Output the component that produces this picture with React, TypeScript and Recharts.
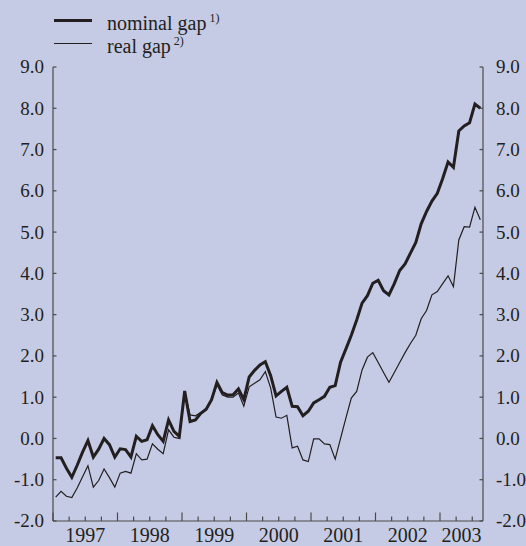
import { Line, LineChart, XAxis, YAxis } from "recharts";

// monthly, Jan 1997 - Aug 2003
const nominalGap = [
  -0.47, -0.47, -0.72, -0.94, -0.65, -0.33, -0.05, -0.45, -0.26, 0.0, -0.15, -0.45,
  -0.25, -0.27, -0.45, 0.05, -0.07, -0.03, 0.31, 0.09, -0.07, 0.45, 0.17, 0.05,
  1.15, 0.41, 0.45, 0.61, 0.71, 0.94, 1.36, 1.11, 1.05, 1.06, 1.2, 0.94,
  1.49, 1.65, 1.78, 1.86, 1.52, 1.03, 1.14, 1.24, 0.78, 0.77, 0.55, 0.66,
  0.86, 0.94, 1.02, 1.24, 1.28, 1.85, 2.17, 2.5, 2.87, 3.28, 3.46, 3.76,
  3.83, 3.58, 3.48, 3.75, 4.07, 4.23, 4.49, 4.75, 5.2, 5.5, 5.75, 5.94,
  6.3, 6.7, 6.57, 7.45, 7.57, 7.65, 8.1, 8.0,
];

const realGap = [
  -1.42, -1.28, -1.4, -1.43, -1.2, -0.93, -0.66, -1.18, -1.02, -0.74, -0.95, -1.18,
  -0.84, -0.8, -0.84, -0.37, -0.52, -0.5, -0.13, -0.26, -0.37, 0.21, 0.03, 0.0,
  1.12, 0.57, 0.55, 0.63, 0.71, 0.92, 1.3, 1.05, 1.0, 1.0, 1.1, 0.78,
  1.25, 1.34, 1.42, 1.62, 1.22, 0.52, 0.49, 0.56, -0.23, -0.19, -0.52, -0.56,
  -0.01, -0.01, -0.13, -0.15, -0.5, 0.0, 0.5, 0.98, 1.14, 1.66, 1.97, 2.08,
  1.84, 1.6, 1.36, 1.6, 1.84, 2.08, 2.3, 2.5, 2.9, 3.1, 3.48, 3.56,
  3.75, 3.94, 3.68, 4.81, 5.13, 5.12, 5.6, 5.3,
];

const years = ["1997", "1998", "1999", "2000", "2001", "2002", "2003"];
const yTicks = [-2, -1, 0, 1, 2, 3, 4, 5, 6, 7, 8, 9];

const MONTHS = nominalGap.length;
const quarterTicks = Array.from({ length: Math.floor((MONTHS - 1) / 3) + 1 }, (_, i) => i * 3);
const yearMid = years.map((_, i) => {
  const start = i * 12;
  const end = Math.min(start + 12, MONTHS);
  return (start + end) / 2;
});

const data = nominalGap.map((v, i) => ({ m: i + 0.5, nominal: v, real: realGap[i] }));

const BG = "#c6cbe5";
const INK = "#231f20";
const AXIS = "#4a4a4a";
const FONT = "'Liberation Serif', 'Times New Roman', serif";

const css = `
.ecb, .ecb text, .ecb tspan, .ecb span { font-family: ${FONT} !important; }
`;

// eslint-disable-next-line @typescript-eslint/no-explicit-any
const LeftTick = ({ x, y, payload }: any) => (
  <g>
    <line x1={x} x2={x + 3.5} y1={y} y2={y} stroke={AXIS} strokeWidth={1.2} />
    <text x={x - 9} y={y} dy="0.34em" textAnchor="end" fontSize={19} fill={INK}>
      {payload.value.toFixed(1)}
    </text>
  </g>
);

// eslint-disable-next-line @typescript-eslint/no-explicit-any
const RightTick = ({ x, y, payload }: any) => (
  <g>
    <line x1={x} x2={x - 3.5} y1={y} y2={y} stroke={AXIS} strokeWidth={1.2} />
    <text x={x + 13} y={y} dy="0.34em" textAnchor="start" fontSize={19} fill={INK}>
      {payload.value.toFixed(1)}
    </text>
  </g>
);

// eslint-disable-next-line @typescript-eslint/no-explicit-any
const QuarterTick = ({ x, y, payload }: any) => {
  const len = payload.value % 12 === 0 ? 8.5 : 4.5;
  return <line x1={x} x2={x} y1={y} y2={y - len} stroke={AXIS} strokeWidth={1.2} />;
};

// eslint-disable-next-line @typescript-eslint/no-explicit-any
const YearTick = ({ x, y, index }: any) => (
  <text x={x} y={y + 19} textAnchor="middle" fontSize={20} fill={INK}>
    {years[index]}
  </text>
);

function LegendBox() {
  const row = (w: number, top: number, label: string, note: string) => (
    <div style={{ position: "absolute", left: 54, top, display: "flex", alignItems: "center", height: 22 }}>
      <div style={{ width: 38, height: 0, borderTop: `${w}px solid ${INK}` }} />
      <span style={{ marginLeft: 15, fontSize: 20, color: INK, lineHeight: "22px" }}>
        {label}
        <sup style={{ fontSize: 12, marginLeft: 3 }}>{note}</sup>
      </span>
    </div>
  );
  return (
    <div style={{ position: "absolute", left: 0, top: 0, width: 260, height: 60 }}>
      {row(3, 9, "nominal gap", "1)")}
      {row(1.2, 32, "real gap", "2)")}
    </div>
  );
}

export default function App() {
  return (
    <div
      className="ecb"
      style={{ position: "absolute", left: 0, top: 0, width: 526, height: 546, background: BG, fontFamily: FONT }}
    >
      <style>{css}</style>
      <LineChart width={526} height={546} data={data} margin={{ top: 67, right: 0, bottom: 0, left: 0 }}>
        <XAxis
          xAxisId="q"
          dataKey="m"
          type="number"
          domain={[0, MONTHS]}
          ticks={quarterTicks}
          interval={0}
          allowDataOverflow
          height={2}
          tickSize={0}
          tickMargin={0}
          tickLine={false}
          axisLine={{ stroke: AXIS, strokeWidth: 1.2 }}
          tick={<QuarterTick />}
        />
        <XAxis
          xAxisId="yr"
          dataKey="m"
          type="number"
          domain={[0, MONTHS]}
          ticks={yearMid}
          interval={0}
          allowDataOverflow
          height={23}
          tickSize={0}
          tickMargin={0}
          tickLine={false}
          axisLine={false}
          tick={<YearTick />}
        />
        <YAxis
          yAxisId="l"
          domain={[-2, 9]}
          ticks={yTicks}
          interval={0}
          allowDataOverflow
          width={53}
          tickSize={0}
          tickMargin={0}
          tickLine={false}
          axisLine={{ stroke: AXIS, strokeWidth: 1.2 }}
          tick={<LeftTick />}
        />
        <YAxis
          yAxisId="r"
          orientation="right"
          domain={[-2, 9]}
          ticks={yTicks}
          interval={0}
          allowDataOverflow
          width={43}
          tickSize={0}
          tickMargin={0}
          tickLine={false}
          axisLine={{ stroke: AXIS, strokeWidth: 1.2 }}
          tick={<RightTick />}
        />
        <Line
          xAxisId="q"
          yAxisId="l"
          type="linear"
          dataKey="real"
          stroke={INK}
          strokeWidth={1.2}
          dot={false}
          isAnimationActive={false}
        />
        <Line
          xAxisId="q"
          yAxisId="l"
          type="linear"
          dataKey="nominal"
          stroke={INK}
          strokeWidth={3}
          strokeLinejoin="miter"
          dot={false}
          isAnimationActive={false}
        />
      </LineChart>
      <LegendBox />
    </div>
  );
}
